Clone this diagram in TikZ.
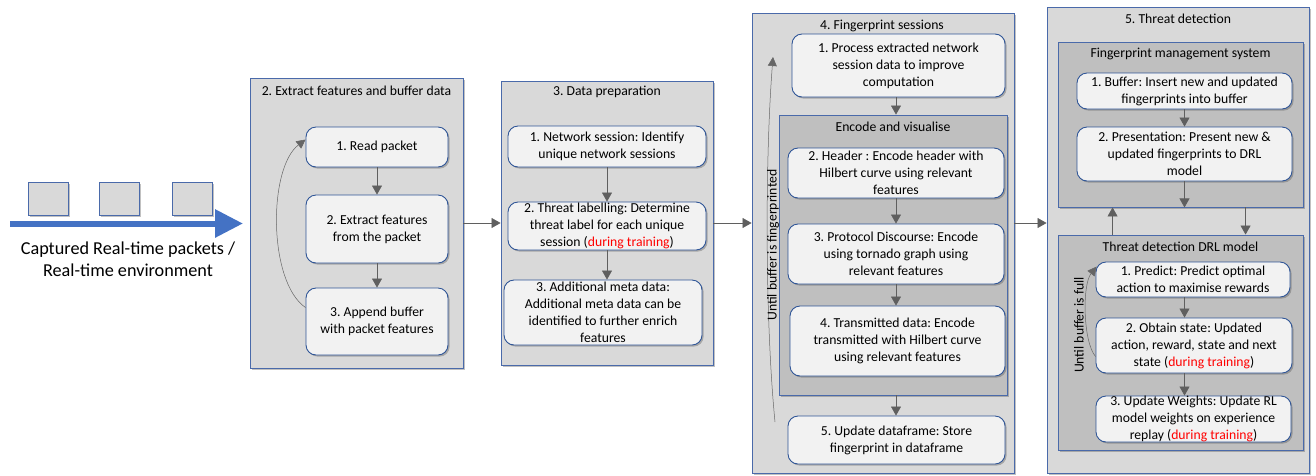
\documentclass[tikz,border=0pt]{standalone}
\usepackage{fontspec}
\setmainfont{Carlito}
\frenchspacing
\usetikzlibrary{arrows.meta,shadows,calc}
\definecolor{panelfill}{HTML}{D9D9D9}
\definecolor{groupfill}{HTML}{BFBFBF}
\definecolor{stepfill}{HTML}{F2F2F2}
\definecolor{edgeblue}{HTML}{4A6AAA}
\definecolor{stepblue}{HTML}{2F5597}
\definecolor{flowgray}{HTML}{5F5F5F}
\definecolor{bigblue}{HTML}{4472C4}
\tikzset{
  boxshadow/.style={drop shadow={shadow xshift=1.6pt,shadow yshift=-1.6pt,opacity=0.35,fill=black!70}},
  panel/.style={draw=edgeblue,line width=0.9pt,fill=panelfill,boxshadow,inner sep=0pt},
  group/.style={draw=edgeblue,line width=0.9pt,fill=groupfill,boxshadow,inner sep=0pt},
  stepbox/.style={draw=stepblue,line width=0.9pt,fill=stepfill,rounded corners=10pt,
    boxshadow,align=center,inner xsep=3pt,inner ysep=0pt,
    font=\fontsize{13.7}{17}\selectfont},
  title/.style={font=\fontsize{13.7}{17}\selectfont,inner sep=0pt},
  flow/.style={draw=flowgray,line width=0.6pt,-{Triangle[length=9pt,width=10pt]}},
  loop/.style={draw=gray!80!black,line width=0.5pt,-{Triangle[length=9pt,width=9pt]}},
  packet/.style={draw=edgeblue,line width=0.9pt,fill=panelfill,boxshadow,
    minimum width=40pt,minimum height=33pt,inner sep=0pt},
}
\newcommand{\dtr}{\textcolor{red}{during training}}
\begin{document}
\begin{tikzpicture}[x=1pt,y=-1pt]
\useasboundingbox (0,0) rectangle (1316,475);

% captured packets on the incoming stream
\node[packet] (p1) at (48,198.5) {};
\node[packet] (p2) at (119,198.5) {};
\node[packet] (p3) at (192,198.5) {};
\coordinate (sa) at (10,223.5);
\coordinate (sb) at (243,223.5);
\draw[bigblue,line width=6pt,-{Triangle[length=28pt,width=27pt]}] (sa) -- (sb);
\node[align=center,font=\fontsize{18.2}{22}\selectfont,inner sep=0pt] (cap) at (128,259)
  {Captured Real-time packets /\\Real-time environment};

% 2. extract features
\node[panel,minimum width=213pt,minimum height=290pt] (box2) at (356.5,223) {};
\node[title] (t2) at (356.5,91) {2. Extract features and buffer data};
\node[stepbox,minimum width=142pt,minimum height=40pt] (b21) at (377,147) {1. Read packet};
\node[stepbox,minimum width=142pt,minimum height=68pt] (b22) at (377,229) {2. Extract features\\from the packet};
\node[stepbox,minimum width=142pt,minimum height=67pt] (b23) at (377,321.5) {3. Append buffer\\with packet features};
\draw[flow] (b21) -- (b22);
\draw[flow] (b22) -- (b23);
\draw[loop] ($(b23.north west)+(0,20)$) .. controls (268,282) and (268,168) .. ($(b21.north west)+(0,13)$);

% 3. data preparation
\node[panel,minimum width=212pt,minimum height=284pt] (box3) at (607,223) {};
\node[title] (t3) at (607,92) {3. Data preparation};
\node[stepbox,minimum width=198pt,minimum height=41pt] (b31) at (607,146.5) {1. Network session: Identify\\unique network sessions};
\node[stepbox,minimum width=198pt,minimum height=48pt] (b32) at (607,226) {2. Threat labelling: Determine\\threat label for each unique\\session (\dtr)};
\node[stepbox,minimum width=198pt,minimum height=65pt] (b33) at (603,312.5) {3. Additional meta data:\\Additional meta data can be\\identified to further enrich\\features};
\draw[flow] (b31) -- (b32);
\draw[flow] (b32.south) -- (b32.south |- b33.north);

% 4. fingerprint sessions
\node[panel,minimum width=262pt,minimum height=460pt] (box4) at (883,243) {};
\node[title] (t4) at (882,26) {4. Fingerprint sessions};
\node[stepbox,minimum width=213pt,minimum height=63pt] (b41) at (898.5,65.5) {1. Process extracted network\\session data to improve\\computation};
\node[group,minimum width=228pt,minimum height=280pt] (enc) at (893,255) {};
\node[title] (te) at (893,127) {Encode and visualise};
\node[stepbox,minimum width=216pt,minimum height=50pt] (b42) at (896,173) {2. Header : Encode header with\\Hilbert curve using relevant\\features};
\node[stepbox,minimum width=216pt,minimum height=60pt] (b43) at (896,254) {3. Protocol Discourse: Encode\\using tornado graph using\\relevant features};
\node[stepbox,minimum width=215pt,minimum height=70pt] (b44) at (897.5,341) {4. Transmitted data: Encode\\transmitted with Hilbert curve\\using relevant features};
\node[stepbox,minimum width=217pt,minimum height=48pt] (b45) at (896.5,440) {5. Update dataframe: Store\\fingerprint in dataframe};
\draw[flow] (b42.north |- b41.south) -- (b42.north |- enc.north);
\draw[flow] (b42) -- (b43);
\draw[flow] (b43.south) -- (b43.south |- b44.north);
\draw[flow] (b42.north |- enc.south) -- (b42.north |- b45.north);
\coordinate (l4a) at (775,422);
\coordinate (l4b) at (773,57);
\draw[loop] (l4a) .. controls (765,320) and (765,160) .. (l4b);
\node[title,rotate=90] (u4) at (773,245) {Until buffer is fingerprinted};

% 5. threat detection
\node[panel,minimum width=262pt,minimum height=466pt] (box5) at (1178,240) {};
\node[title] (t5) at (1178,19) {5. Threat detection};
\node[group,minimum width=245pt,minimum height=165pt] (fms) at (1180.5,124.5) {};
\node[title] (tf) at (1180.5,54) {Fingerprint management system};
\node[stepbox,minimum width=215pt,minimum height=36pt] (b51) at (1184.5,91) {1. Buffer: Insert new and updated\\fingerprints into buffer};
\node[stepbox,minimum width=215pt,minimum height=54pt] (b52) at (1184.5,154) {2. Presentation: Present new \&\\updated fingerprints to DRL\\model};
\node[group,minimum width=245pt,minimum height=215pt] (drl) at (1180.5,342.5) {};
\node[title] (td) at (1180.5,247) {Threat detection DRL model};
\node[stepbox,minimum width=194pt,minimum height=35pt] (b53) at (1193,279.5) {1. Predict: Predict optimal\\action to maximise rewards};
\node[stepbox,minimum width=196pt,minimum height=55pt] (b54) at (1194,345.5) {2. Obtain state: Updated\\action, reward, state and next\\state (\dtr)};
\node[stepbox,minimum width=195pt,minimum height=46pt] (b55) at (1193.5,419) {3. Update Weights: Update RL\\model weights on experience\\replay (\dtr)};
\draw[flow] (b52.north |- b51.south) -- (b52.north |- b52.north);
\draw[flow] (b52.south) -- (b52.south |- fms.south);
\draw[flow] ($(drl.north west)+(55,0)$) -- ($(fms.south west)+(55,0)$);
\draw[flow] ($(fms.south west)+(188,0)$) -- ($(drl.north west)+(188,0)$);
\draw[flow] (b52.south |- b53.south) -- (b52.south |- b54.north);
\draw[flow] (b52.south |- b54.south) -- (b52.south |- b55.north);
\draw[loop] ($(b54.north west)+(0,39)$) .. controls (1083,342) and (1082,285) .. ($(b53.north west)+(1,5)$);
\node[title,rotate=90] (u5) at (1079,325) {Until buffer is full};

% hand-offs between the stages
\draw[flow] (box2.east) -- (box3.west);
\draw[flow] (box3.east) -- (box3.east -| box4.west);
\draw[flow] (box3.east -| box4.east) -- (box3.east -| box5.west);
\end{tikzpicture}
\end{document}
